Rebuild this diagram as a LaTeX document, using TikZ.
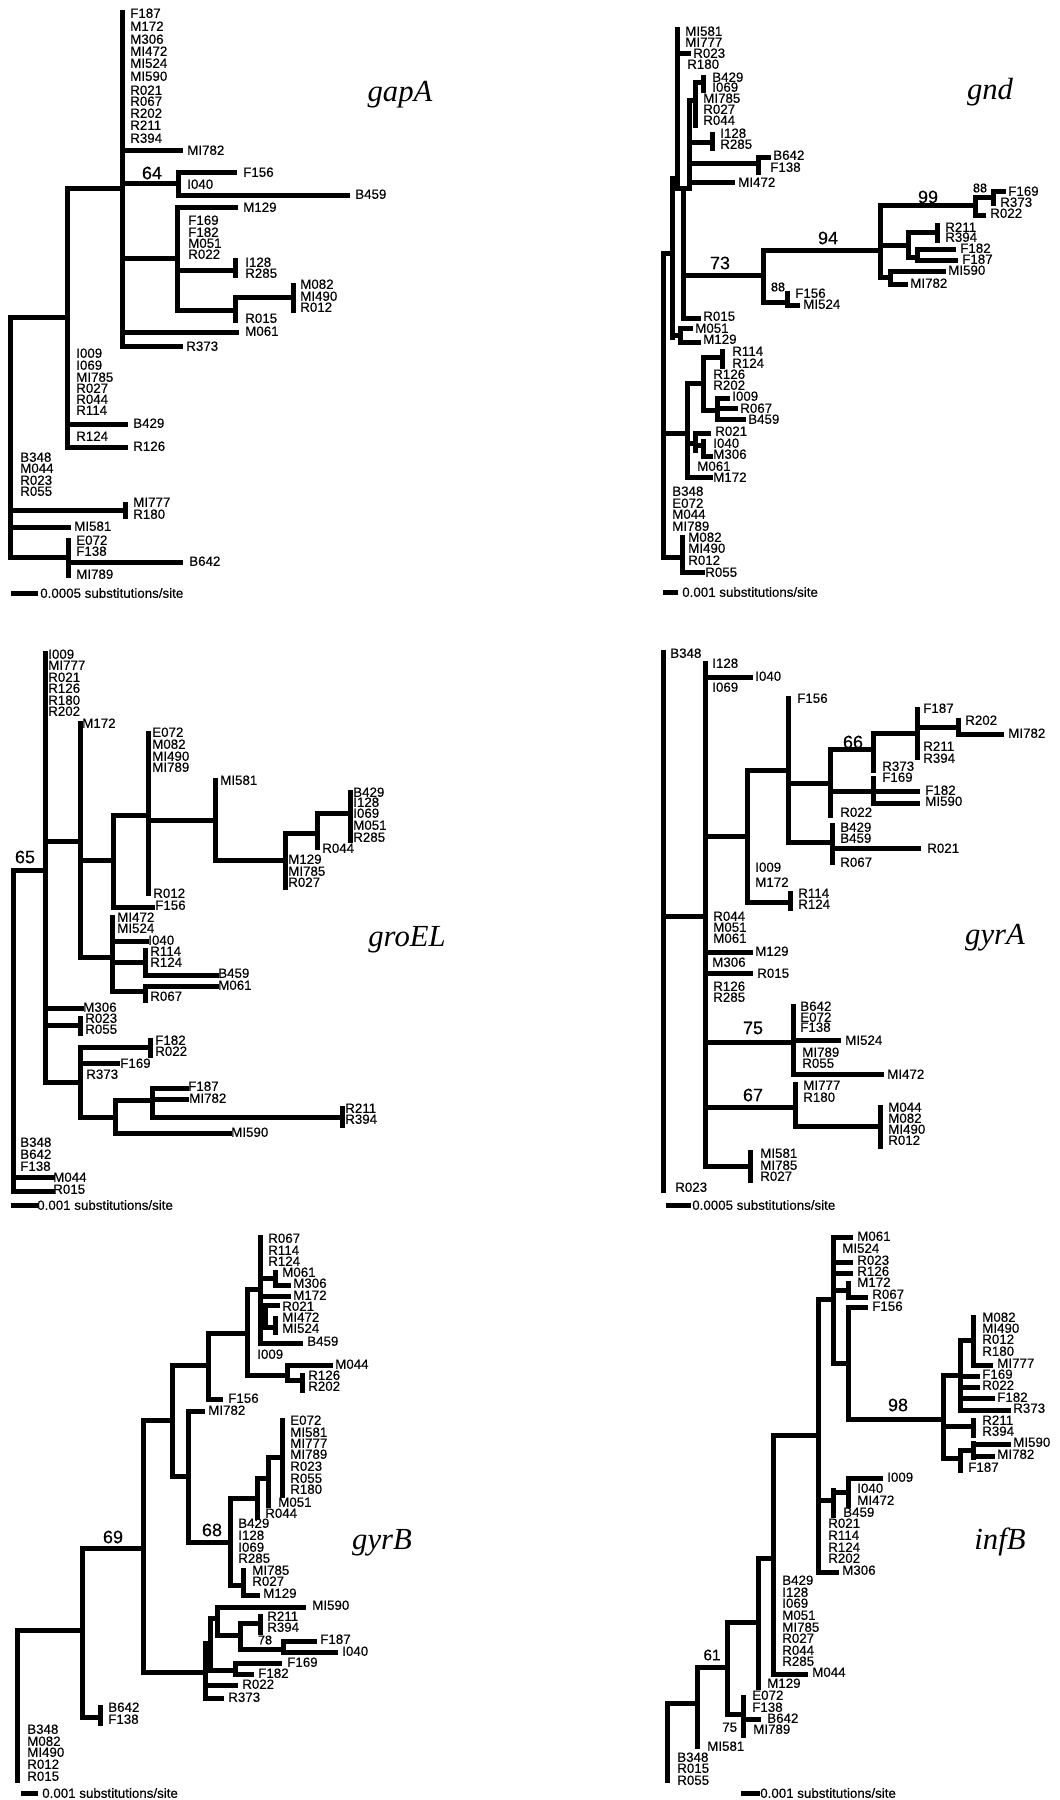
\documentclass[tikz,border=0pt]{standalone}
\usepackage{fontspec}
\setmainfont{Liberation Sans}[FakeBold=0.35]
\newfontfamily\genefont{Liberation Serif}
\tikzset{
  br/.style={line width=3.75pt, line cap=rect},
  lab/.style={anchor=west, inner sep=0pt, font=\fontsize{10}{10}\selectfont, text height=7.2pt, text depth=0pt},
  bsup/.style={anchor=center, inner sep=0pt, font=\fontsize{13.5}{13.5}\selectfont},
  bsmall/.style={anchor=center, inner sep=0pt, font=\fontsize{9.5}{9.5}\selectfont},
  bmid/.style={anchor=center, inner sep=0pt, font=\fontsize{11.5}{11.5}\selectfont},
  gene/.style={anchor=center, inner sep=0pt, font=\genefont\itshape\fontsize{23}{23}\selectfont},
  scl/.style={anchor=west, inner sep=0pt, font=\fontsize{10}{10}\selectfont, text height=7.2pt, text depth=0pt}
}
\newcommand\brV[3]{\draw[br] (#1,#2) -- (#1,#3);}
\newcommand\brH[3]{\draw[br] (#2,#1) -- (#3,#1);}
\newcommand\tiplab[4]{\node[lab] (#1-#4) at (#2,#3) {#4};}
\begin{document}
\begin{tikzpicture}[x=0.75pt,y=-0.75pt]
\fill[white] (0,0) rectangle (1060,1800);
\useasboundingbox (0,0) rectangle (1060,1800);

% ================= gapA =================
\brV{10}{317}{557}
\brV{67}{188}{447}
\brV{122}{12}{346}
\brV{178}{172}{195}
\brV{177}{207}{310}
\brV{235}{260}{275}
\brV{235}{297}{320}
\brV{293}{285}{310}
\brV{125}{504}{516}
\brV{68}{540}{575}
\brH{317}{10}{67}
\brH{188}{67}{122}
\brH{150}{122}{180}
\brH{183}{122}{178}
\brH{172}{178}{234}
\brH{195}{178}{347}
\brH{258}{122}{177}
\brH{207}{177}{235}
\brH{270}{177}{235}
\brH{310}{177}{235}
\brH{297}{235}{293}
\brH{332}{122}{236}
\brH{346}{122}{180}
\brH{424}{67}{125}
\brH{447}{67}{125}
\brH{510}{10}{122}
\brH{527}{10}{68}
\brH{557}{10}{68}
\brH{562}{68}{180}
\brH{593}{13}{35}
\node[scl] (ga-scale) at (40,593) {0.0005 substitutions/site};
\node[gene] (ga-title) at (400,95) {gapA};
\node[bsup] (ga-b64) at (152,173) {64};
\tiplab{ga}{130}{13}{F187}
\tiplab{ga}{130}{26}{M172}
\tiplab{ga}{130}{39}{M306}
\tiplab{ga}{130}{51}{MI472}
\tiplab{ga}{130}{63}{MI524}
\tiplab{ga}{130}{76}{MI590}
\tiplab{ga}{130}{90}{R021}
\tiplab{ga}{130}{101}{R067}
\tiplab{ga}{130}{113}{R202}
\tiplab{ga}{130}{125}{R211}
\tiplab{ga}{130}{138}{R394}
\tiplab{ga}{187}{150}{MI782}
\tiplab{ga}{243}{172}{F156}
\tiplab{ga}{187}{184}{I040}
\tiplab{ga}{355}{194}{B459}
\tiplab{ga}{243}{207}{M129}
\tiplab{ga}{188}{220}{F169}
\tiplab{ga}{188}{232}{F182}
\tiplab{ga}{188}{243}{M051}
\tiplab{ga}{188}{254}{R022}
\tiplab{ga}{245}{262}{I128}
\tiplab{ga}{245}{273}{R285}
\tiplab{ga}{300}{284}{M082}
\tiplab{ga}{300}{296}{MI490}
\tiplab{ga}{300}{307}{R012}
\tiplab{ga}{245}{318}{R015}
\tiplab{ga}{245}{331}{M061}
\tiplab{ga}{186}{346}{R373}
\tiplab{ga}{76}{353}{I009}
\tiplab{ga}{76}{365}{I069}
\tiplab{ga}{76}{377}{MI785}
\tiplab{ga}{76}{388}{R027}
\tiplab{ga}{76}{399}{R044}
\tiplab{ga}{76}{410}{R114}
\tiplab{ga}{133}{423}{B429}
\tiplab{ga}{76}{436}{R124}
\tiplab{ga}{133}{446}{R126}
\tiplab{ga}{20}{457}{B348}
\tiplab{ga}{20}{468}{M044}
\tiplab{ga}{20}{480}{R023}
\tiplab{ga}{20}{491}{R055}
\tiplab{ga}{133}{502}{MI777}
\tiplab{ga}{133}{514}{R180}
\tiplab{ga}{74}{526}{MI581}
\tiplab{ga}{76}{540}{E072}
\tiplab{ga}{76}{551}{F138}
\tiplab{ga}{189}{561}{B642}
\tiplab{ga}{76}{574}{MI789}

% ================= gnd =================
\brV{663}{253}{557}
\brV{672}{178}{337}
\brV{677}{29}{188}
\brH{53}{677}{688}
\brV{689}{100}{188}
\brH{188}{677}{689}
\brV{683}{188}{318}
\brH{100}{689}{695}
\brV{695}{82}{125}
\brH{82}{695}{703}
\brV{703}{77}{90}
\brH{142}{689}{712}
\brV{712}{134}{148}
\brH{163}{689}{758}
\brV{758}{157}{172}
\brH{157}{758}{768}
\brH{182}{689}{732}
\brH{178}{672}{677}
\brH{253}{663}{672}
\brH{275}{683}{763}
\brV{763}{250}{302}
\brH{302}{763}{787}
\brV{787}{293}{305}
\brH{305}{787}{797}
\brH{250}{763}{880}
\brV{880}{205}{277}
\brH{205}{880}{975}
\brV{975}{197}{215}
\brH{197}{975}{993}
\brV{993}{191}{203}
\brH{191}{993}{1003}
\brH{215}{975}{983}
\brH{245}{880}{908}
\brV{908}{232}{257}
\brH{232}{908}{937}
\brV{937}{225}{240}
\brH{257}{908}{917}
\brV{917}{249}{260}
\brH{249}{917}{953}
\brH{260}{917}{955}
\brH{277}{880}{890}
\brV{890}{271}{284}
\brH{271}{890}{943}
\brH{284}{890}{905}
\brH{318}{683}{698}
\brV{680}{328}{342}
\brH{335}{672}{680}
\brH{328}{680}{690}
\brH{342}{680}{698}
\brH{433}{663}{687}
\brV{687}{383}{477}
\brH{383}{687}{703}
\brV{703}{357}{410}
\brH{357}{703}{722}
\brV{722}{351}{366}
\brH{410}{703}{717}
\brV{717}{398}{419}
\brH{398}{717}{727}
\brH{408}{717}{735}
\brH{419}{717}{743}
\brH{443}{687}{695}
\brV{695}{433}{450}
\brH{433}{695}{708}
\brH{445}{695}{703}
\brV{703}{441}{456}
\brH{456}{703}{710}
\brH{477}{687}{710}
\brH{557}{663}{682}
\brV{682}{537}{572}
\brH{572}{682}{702}
\brH{592}{665}{675}
\node[scl] (gn-scale) at (682,592) {0.001 substitutions/site};
\node[gene] (gn-title) at (990,92) {gnd};
\node[bsup] (gn-b73) at (720,263) {73};
\node[bsup] (gn-b94) at (828,238) {94};
\node[bsup] (gn-b99) at (928,197) {99};
\node[bsmall] (gn-b88a) at (980,188) {88};
\node[bsmall] (gn-b88b) at (778,287) {88};
\tiplab{gn}{685}{31}{MI581}
\tiplab{gn}{685}{42}{MI777}
\tiplab{gn}{693}{53}{R023}
\tiplab{gn}{687}{64}{R180}
\tiplab{gn}{712}{77}{B429}
\tiplab{gn}{712}{87}{I069}
\tiplab{gn}{703}{98}{MI785}
\tiplab{gn}{703}{109}{R027}
\tiplab{gn}{703}{120}{R044}
\tiplab{gn}{720}{133}{I128}
\tiplab{gn}{720}{144}{R285}
\tiplab{gn}{773}{155}{B642}
\tiplab{gn}{770}{167}{F138}
\tiplab{gn}{738}{182}{MI472}
\tiplab{gn}{1008}{191}{F169}
\tiplab{gn}{1000}{202}{R373}
\tiplab{gn}{990}{213}{R022}
\tiplab{gn}{945}{227}{R211}
\tiplab{gn}{945}{237}{R394}
\tiplab{gn}{960}{248}{F182}
\tiplab{gn}{962}{259}{F187}
\tiplab{gn}{948}{270}{MI590}
\tiplab{gn}{910}{283}{MI782}
\tiplab{gn}{795}{293}{F156}
\tiplab{gn}{803}{304}{MI524}
\tiplab{gn}{703}{316}{R015}
\tiplab{gn}{695}{328}{M051}
\tiplab{gn}{703}{339}{M129}
\tiplab{gn}{732}{351}{R114}
\tiplab{gn}{732}{363}{R124}
\tiplab{gn}{713}{374}{R126}
\tiplab{gn}{713}{385}{R202}
\tiplab{gn}{732}{396}{I009}
\tiplab{gn}{740}{408}{R067}
\tiplab{gn}{748}{419}{B459}
\tiplab{gn}{715}{431}{R021}
\tiplab{gn}{713}{443}{I040}
\tiplab{gn}{713}{454}{M306}
\tiplab{gn}{697}{466}{M061}
\tiplab{gn}{713}{477}{M172}
\tiplab{gn}{672}{491}{B348}
\tiplab{gn}{672}{503}{E072}
\tiplab{gn}{672}{514}{M044}
\tiplab{gn}{672}{526}{MI789}
\tiplab{gn}{688}{537}{M082}
\tiplab{gn}{688}{548}{MI490}
\tiplab{gn}{688}{560}{R012}
\tiplab{gn}{705}{572}{R055}

% ================= groEL =================
\brV{13}{870}{1191}
\brH{870}{13}{45}
\brV{45}{653}{1082}
\brH{841}{45}{80}
\brV{80}{723}{957}
\brH{860}{80}{113}
\brV{113}{815}{907}
\brH{815}{113}{148}
\brV{148}{733}{893}
\brH{820}{148}{215}
\brV{215}{780}{860}
\brH{860}{215}{285}
\brV{285}{833}{887}
\brH{833}{285}{317}
\brV{317}{813}{847}
\brH{813}{317}{350}
\brV{350}{792}{840}
\brH{907}{113}{152}
\brH{957}{80}{112}
\brV{112}{917}{991}
\brH{941}{112}{146}
\brH{962}{112}{145}
\brV{145}{950}{975}
\brH{975}{145}{216}
\brH{991}{112}{145}
\brV{145}{986}{1000}
\brH{986}{145}{216}
\brH{1008}{45}{81}
\brH{1025}{45}{80}
\brV{80}{1018}{1033}
\brH{1082}{45}{80}
\brV{80}{1047}{1117}
\brH{1047}{80}{150}
\brV{150}{1040}{1055}
\brH{1063}{80}{117}
\brH{1117}{80}{115}
\brV{115}{1100}{1133}
\brH{1100}{115}{152}
\brV{152}{1088}{1117}
\brH{1088}{152}{186}
\brH{1099}{152}{186}
\brH{1117}{152}{342}
\brV{342}{1108}{1125}
\brH{1133}{115}{229}
\brH{1177}{13}{52}
\brH{1191}{13}{52}
\brH{1205}{13}{35}
\node[scl] (ge-scale) at (37,1205) {0.001 substitutions/site};
\node[gene] (ge-title) at (407,940) {groEL};
\node[bsup] (ge-b65) at (25,857) {65};
\tiplab{ge}{48}{654}{I009}
\tiplab{ge}{48}{665}{MI777}
\tiplab{ge}{48}{677}{R021}
\tiplab{ge}{48}{688}{R126}
\tiplab{ge}{48}{700}{R180}
\tiplab{ge}{48}{711}{R202}
\tiplab{ge}{82}{723}{M172}
\tiplab{ge}{152}{732}{E072}
\tiplab{ge}{152}{744}{M082}
\tiplab{ge}{152}{756}{MI490}
\tiplab{ge}{152}{767}{MI789}
\tiplab{ge}{220}{780}{MI581}
\tiplab{ge}{353}{792}{B429}
\tiplab{ge}{353}{802}{I128}
\tiplab{ge}{353}{813}{I069}
\tiplab{ge}{353}{825}{M051}
\tiplab{ge}{353}{837}{R285}
\tiplab{ge}{322}{848}{R044}
\tiplab{ge}{288}{859}{M129}
\tiplab{ge}{288}{871}{MI785}
\tiplab{ge}{288}{882}{R027}
\tiplab{ge}{153}{893}{R012}
\tiplab{ge}{155}{905}{F156}
\tiplab{ge}{117}{917}{MI472}
\tiplab{ge}{117}{928}{MI524}
\tiplab{ge}{148}{940}{I040}
\tiplab{ge}{150}{951}{R114}
\tiplab{ge}{150}{962}{R124}
\tiplab{ge}{218}{973}{B459}
\tiplab{ge}{218}{985}{M061}
\tiplab{ge}{150}{996}{R067}
\tiplab{ge}{83}{1007}{M306}
\tiplab{ge}{85}{1018}{R023}
\tiplab{ge}{85}{1029}{R055}
\tiplab{ge}{155}{1040}{F182}
\tiplab{ge}{155}{1051}{R022}
\tiplab{ge}{120}{1063}{F169}
\tiplab{ge}{86}{1074}{R373}
\tiplab{ge}{188}{1086}{F187}
\tiplab{ge}{189}{1098}{MI782}
\tiplab{ge}{345}{1108}{R211}
\tiplab{ge}{345}{1119}{R394}
\tiplab{ge}{231}{1132}{MI590}
\tiplab{ge}{20}{1142}{B348}
\tiplab{ge}{20}{1154}{B642}
\tiplab{ge}{20}{1166}{F138}
\tiplab{ge}{53}{1177}{M044}
\tiplab{ge}{53}{1189}{R015}

% ================= gyrA =================
\brV{663}{652}{1190}
\brH{916}{663}{705}
\brV{705}{663}{1166}
\brH{677}{705}{750}
\brH{836}{705}{747}
\brV{747}{770}{902}
\brH{770}{747}{788}
\brV{788}{698}{842}
\brH{783}{788}{830}
\brV{830}{749}{815}
\brH{749}{830}{873}
\brV{873}{733}{770}
\brH{733}{873}{917}
\brV{917}{709}{757}
\brH{727}{917}{958}
\brV{958}{720}{734}
\brH{734}{958}{1001}
\brH{791}{830}{917}
\brV{873}{778}{803}
\brH{803}{873}{917}
\brH{842}{788}{832}
\brV{832}{825}{862}
\brH{848}{832}{918}
\brH{902}{747}{790}
\brV{790}{893}{908}
\brH{952}{705}{750}
\brH{973}{705}{750}
\brH{1042}{705}{793}
\brV{793}{1006}{1074}
\brH{1040}{793}{838}
\brH{1074}{793}{881}
\brH{1107}{705}{795}
\brV{795}{1084}{1126}
\brH{1126}{795}{880}
\brV{880}{1107}{1146}
\brH{1166}{705}{750}
\brV{750}{1152}{1180}
\brH{1205}{668}{688}
\node[scl] (gy-scale) at (692,1205) {0.0005 substitutions/site};
\node[gene] (gy-title) at (995,938) {gyrA};
\node[bsup] (gy-b66) at (853,742) {66};
\node[bsup] (gy-b75) at (753,1028) {75};
\node[bsup] (gy-b67) at (753,1095) {67};
\tiplab{gy}{670}{653}{B348}
\tiplab{gy}{712}{663}{I128}
\tiplab{gy}{755}{676}{I040}
\tiplab{gy}{712}{687}{I069}
\tiplab{gy}{797}{698}{F156}
\tiplab{gy}{923}{708}{F187}
\tiplab{gy}{965}{720}{R202}
\tiplab{gy}{1008}{733}{MI782}
\tiplab{gy}{923}{746}{R211}
\tiplab{gy}{923}{758}{R394}
\tiplab{gy}{882}{766}{R373}
\tiplab{gy}{882}{777}{F169}
\tiplab{gy}{925}{790}{F182}
\tiplab{gy}{925}{801}{MI590}
\tiplab{gy}{840}{812}{R022}
\tiplab{gy}{840}{827}{B429}
\tiplab{gy}{840}{838}{B459}
\tiplab{gy}{927}{848}{R021}
\tiplab{gy}{840}{862}{R067}
\tiplab{gy}{755}{867}{I009}
\tiplab{gy}{755}{882}{M172}
\tiplab{gy}{798}{893}{R114}
\tiplab{gy}{798}{904}{R124}
\tiplab{gy}{713}{916}{R044}
\tiplab{gy}{713}{927}{M051}
\tiplab{gy}{713}{938}{M061}
\tiplab{gy}{755}{951}{M129}
\tiplab{gy}{712}{962}{M306}
\tiplab{gy}{757}{973}{R015}
\tiplab{gy}{713}{986}{R126}
\tiplab{gy}{713}{997}{R285}
\tiplab{gy}{800}{1006}{B642}
\tiplab{gy}{800}{1017}{E072}
\tiplab{gy}{800}{1027}{F138}
\tiplab{gy}{845}{1040}{MI524}
\tiplab{gy}{802}{1052}{MI789}
\tiplab{gy}{802}{1063}{R055}
\tiplab{gy}{887}{1074}{MI472}
\tiplab{gy}{803}{1085}{MI777}
\tiplab{gy}{803}{1097}{R180}
\tiplab{gy}{888}{1107}{M044}
\tiplab{gy}{888}{1118}{M082}
\tiplab{gy}{888}{1129}{MI490}
\tiplab{gy}{888}{1140}{R012}
\tiplab{gy}{760}{1153}{MI581}
\tiplab{gy}{760}{1165}{MI785}
\tiplab{gy}{760}{1176}{R027}
\tiplab{gy}{675}{1187}{R023}

% ================= gyrB =================
\brV{17}{1630}{1780}
\brH{1630}{17}{82}
\brV{82}{1548}{1717}
\brH{1548}{82}{143}
\brH{1717}{82}{100}
\brV{100}{1707}{1723}
\brV{143}{1420}{1672}
\brH{1420}{143}{172}
\brV{172}{1365}{1476}
\brH{1365}{172}{208}
\brV{208}{1333}{1399}
\brH{1399}{208}{220}
\brH{1333}{208}{247}
\brV{247}{1289}{1375}
\brH{1289}{247}{260}
\brV{260}{1237}{1343}
\brH{1278}{260}{275}
\brV{275}{1272}{1285}
\brH{1285}{275}{288}
\brH{1296}{260}{288}
\brV{265}{1305}{1327}
\brH{1316}{260}{265}
\brH{1305}{265}{277}
\brH{1327}{265}{275}
\brV{275}{1318}{1332}
\brH{1343}{260}{300}
\brH{1375}{247}{287}
\brV{287}{1365}{1380}
\brH{1365}{287}{330}
\brH{1380}{287}{302}
\brV{302}{1375}{1390}
\brH{1476}{172}{188}
\brV{188}{1411}{1542}
\brH{1411}{188}{202}
\brH{1542}{188}{230}
\brV{230}{1498}{1585}
\brH{1498}{230}{257}
\brV{257}{1478}{1517}
\brH{1478}{257}{268}
\brV{268}{1457}{1505}
\brH{1457}{268}{282}
\brV{282}{1420}{1495}
\brH{1585}{230}{243}
\brV{243}{1570}{1595}
\brH{1595}{243}{257}
\brH{1672}{143}{205}
\brV{205}{1643}{1698}
\brV{210}{1618}{1665}
\brH{1618}{210}{217}
\brV{217}{1607}{1635}
\brH{1607}{217}{303}
\brH{1635}{217}{240}
\brV{240}{1623}{1649}
\brH{1623}{240}{260}
\brV{260}{1616}{1632}
\brH{1649}{240}{283}
\brV{283}{1641}{1652}
\brH{1641}{283}{314}
\brH{1652}{283}{335}
\brH{1670}{205}{235}
\brV{235}{1663}{1674}
\brH{1663}{235}{279}
\brH{1674}{235}{251}
\brH{1685}{205}{235}
\brH{1698}{205}{221}
\brH{1793}{23}{35}
\node[scl] (gb-scale) at (42,1793) {0.001 substitutions/site};
\node[gene] (gb-title) at (382,1543) {gyrB};
\node[bsup] (gb-b69) at (113,1537) {69};
\node[bsup] (gb-b68) at (212,1530) {68};
\node[bsmall] (gb-b78) at (265,1640) {78};
\tiplab{gb}{268}{1238}{R067}
\tiplab{gb}{268}{1250}{R114}
\tiplab{gb}{268}{1261}{R124}
\tiplab{gb}{282}{1272}{M061}
\tiplab{gb}{293}{1283}{M306}
\tiplab{gb}{293}{1295}{M172}
\tiplab{gb}{282}{1306}{R021}
\tiplab{gb}{282}{1317}{MI472}
\tiplab{gb}{282}{1328}{MI524}
\tiplab{gb}{307}{1341}{B459}
\tiplab{gb}{257}{1354}{I009}
\tiplab{gb}{335}{1364}{M044}
\tiplab{gb}{308}{1375}{R126}
\tiplab{gb}{308}{1386}{R202}
\tiplab{gb}{228}{1398}{F156}
\tiplab{gb}{208}{1410}{MI782}
\tiplab{gb}{290}{1420}{E072}
\tiplab{gb}{290}{1432}{MI581}
\tiplab{gb}{290}{1443}{MI777}
\tiplab{gb}{290}{1454}{MI789}
\tiplab{gb}{290}{1466}{R023}
\tiplab{gb}{290}{1478}{R055}
\tiplab{gb}{290}{1489}{R180}
\tiplab{gb}{278}{1502}{M051}
\tiplab{gb}{265}{1513}{R044}
\tiplab{gb}{238}{1523}{B429}
\tiplab{gb}{238}{1535}{I128}
\tiplab{gb}{238}{1547}{I069}
\tiplab{gb}{238}{1558}{R285}
\tiplab{gb}{252}{1570}{MI785}
\tiplab{gb}{252}{1581}{R027}
\tiplab{gb}{263}{1593}{M129}
\tiplab{gb}{312}{1605}{MI590}
\tiplab{gb}{267}{1616}{R211}
\tiplab{gb}{267}{1627}{R394}
\tiplab{gb}{320}{1639}{F187}
\tiplab{gb}{342}{1651}{I040}
\tiplab{gb}{287}{1662}{F169}
\tiplab{gb}{258}{1673}{F182}
\tiplab{gb}{242}{1684}{R022}
\tiplab{gb}{228}{1697}{R373}
\tiplab{gb}{108}{1707}{B642}
\tiplab{gb}{108}{1719}{F138}
\tiplab{gb}{27}{1729}{B348}
\tiplab{gb}{27}{1741}{M082}
\tiplab{gb}{27}{1752}{MI490}
\tiplab{gb}{27}{1764}{R012}
\tiplab{gb}{27}{1776}{R015}

% ================= infB =================
\brV{667}{1703}{1780}
\brH{1703}{667}{697}
\brV{697}{1667}{1746}
\brH{1667}{697}{727}
\brV{727}{1622}{1714}
\brH{1622}{727}{758}
\brH{1714}{727}{743}
\brV{743}{1697}{1735}
\brH{1719}{743}{758}
\brV{758}{1558}{1687}
\brH{1558}{758}{773}
\brV{773}{1435}{1674}
\brH{1674}{773}{805}
\brH{1435}{773}{818}
\brV{818}{1299}{1572}
\brH{1572}{818}{836}
\brH{1299}{818}{833}
\brV{833}{1237}{1363}
\brH{1237}{833}{850}
\brH{1262}{833}{850}
\brH{1273}{833}{850}
\brH{1290}{833}{848}
\brV{848}{1283}{1297}
\brH{1297}{848}{865}
\brH{1363}{833}{848}
\brV{848}{1307}{1419}
\brH{1307}{848}{865}
\brH{1419}{848}{943}
\brV{943}{1375}{1458}
\brH{1375}{943}{960}
\brV{960}{1340}{1410}
\brH{1340}{960}{973}
\brV{973}{1317}{1365}
\brH{1365}{973}{990}
\brH{1376}{960}{977}
\brH{1387}{960}{977}
\brH{1398}{960}{992}
\brH{1410}{960}{1008}
\brH{1426}{943}{973}
\brV{973}{1420}{1435}
\brH{1458}{943}{960}
\brV{960}{1450}{1470}
\brH{1450}{960}{973}
\brV{973}{1443}{1457}
\brH{1444}{973}{1008}
\brH{1456}{973}{992}
\brH{1500}{818}{833}
\brV{833}{1490}{1515}
\brH{1492}{833}{848}
\brV{848}{1478}{1505}
\brH{1478}{848}{880}
\brH{1793}{743}{757}
\node[scl] (ib-scale) at (760,1793) {0.001 substitutions/site};
\node[gene] (ib-title) at (1000,1542) {infB};
\node[bsup] (ib-b98) at (898,1405) {98};
\node[bmid] (ib-b61) at (712,1655) {61};
\node[lab] (ib-b75) at (722,1727) {75};
\tiplab{ib}{857}{1236}{M061}
\tiplab{ib}{842}{1248}{MI524}
\tiplab{ib}{857}{1260}{R023}
\tiplab{ib}{857}{1271}{R126}
\tiplab{ib}{857}{1282}{M172}
\tiplab{ib}{872}{1294}{R067}
\tiplab{ib}{872}{1306}{F156}
\tiplab{ib}{982}{1317}{M082}
\tiplab{ib}{982}{1328}{MI490}
\tiplab{ib}{982}{1339}{R012}
\tiplab{ib}{982}{1351}{R180}
\tiplab{ib}{997}{1363}{MI777}
\tiplab{ib}{982}{1374}{F169}
\tiplab{ib}{982}{1385}{R022}
\tiplab{ib}{997}{1397}{F182}
\tiplab{ib}{1013}{1408}{R373}
\tiplab{ib}{982}{1420}{R211}
\tiplab{ib}{982}{1431}{R394}
\tiplab{ib}{1013}{1442}{MI590}
\tiplab{ib}{997}{1454}{MI782}
\tiplab{ib}{968}{1467}{F187}
\tiplab{ib}{887}{1477}{I009}
\tiplab{ib}{857}{1488}{I040}
\tiplab{ib}{857}{1500}{MI472}
\tiplab{ib}{843}{1512}{B459}
\tiplab{ib}{828}{1523}{R021}
\tiplab{ib}{828}{1535}{R114}
\tiplab{ib}{828}{1547}{R124}
\tiplab{ib}{828}{1558}{R202}
\tiplab{ib}{842}{1570}{M306}
\tiplab{ib}{782}{1580}{B429}
\tiplab{ib}{782}{1592}{I128}
\tiplab{ib}{782}{1603}{I069}
\tiplab{ib}{782}{1615}{M051}
\tiplab{ib}{782}{1627}{MI785}
\tiplab{ib}{782}{1638}{R027}
\tiplab{ib}{782}{1650}{R044}
\tiplab{ib}{782}{1661}{R285}
\tiplab{ib}{812}{1672}{M044}
\tiplab{ib}{767}{1683}{M129}
\tiplab{ib}{752}{1695}{E072}
\tiplab{ib}{752}{1707}{F138}
\tiplab{ib}{767}{1718}{B642}
\tiplab{ib}{753}{1729}{MI789}
\tiplab{ib}{707}{1746}{MI581}
\tiplab{ib}{677}{1757}{B348}
\tiplab{ib}{677}{1768}{R015}
\tiplab{ib}{677}{1780}{R055}
\end{tikzpicture}
\end{document}
